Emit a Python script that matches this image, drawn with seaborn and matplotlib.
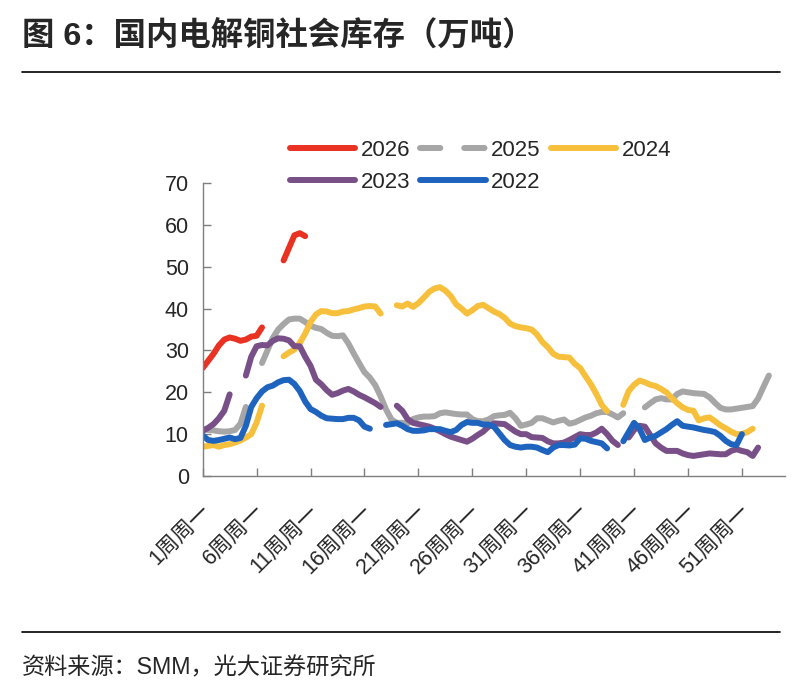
import numpy as np
import pandas as pd
import seaborn as sns
import matplotlib.pyplot as plt
from matplotlib.lines import Line2D

nan = np.nan

# 1周周一, 1周周四, 2周周一 ... (SMM twice-weekly)
categories = [f"{w}周周{d}" for w in range(1, 55) for d in ("一", "四")]

s2026 = [25.8, 27.5, 29.2, 31.2, 32.6, 33.1, 32.8, 32.3, 32.6, 33.3, 33.5, 35.5,
         nan, nan, nan, 51.5, 54.5, 57.5, 58.0, 57.3]

s2025 = [11.2, 11.0, 10.9, 10.7, 10.6, 10.7, 11.0, 12.5, 16.5, nan, nan,
         27.0, 30.0, 33.0, 35.0, 36.3, 37.4, 37.6, 37.6, 36.8, 35.9, 35.4, 35.1, 34.2, 33.5, 33.4, 33.6,
         31.7, 29.3, 27.0, 24.8, 23.5, 21.7, 19.0, 15.9, 13.5, 12.7, 12.7, 12.5,
         13.6, 14.0, 14.2, 14.2, 14.3, 15.0, 15.2, 15.0, 14.8, 14.7, 14.7, 13.6,
         13.1, 13.1, 13.5, 14.3, 14.5, 14.6, 15.1, 13.8, 12.0, 12.3, 12.7, 13.8, 13.8, 13.3,
         12.8, 13.2, 13.5, 12.5, 12.8, 13.4, 14.0, 14.4, 15.0, 15.3, 15.3, 14.7, 14.0, 15.0,
         nan, nan, nan,
         16.4, 17.4, 18.3, 18.6, 18.3, 18.3, 19.6, 20.2, 20.0, 19.8, 19.7, 19.6, 18.8, 17.5,
         16.3, 15.9, 15.9, 16.1, 16.3, 16.5, 16.7, 18.5, 21.3, 24.0]

s2024 = [7.0, 7.2, 7.4, 7.0, 7.4, 7.6, 8.0, 8.5, 9.2, 10.0, 12.8, 16.8,
         nan, nan, nan,
         28.6, 29.5, 30.2, 31.8, 34.0, 36.8, 38.6, 39.4, 39.3, 38.9, 38.9, 39.3, 39.4, 39.8,
         40.1, 40.5, 40.6, 40.5, 38.8,
         nan, nan,
         40.8, 40.5, 41.2, 40.4, 41.3, 42.6, 44.0, 44.8, 45.1, 44.3, 43.0, 41.0, 40.0, 38.8,
         39.6, 40.6, 40.9, 40.1, 39.3, 38.7, 37.8, 36.4, 35.8, 35.5, 35.3, 35.0, 33.8, 32.0,
         30.8, 29.2, 28.5, 28.4, 28.3, 26.8, 25.8, 23.8, 21.9, 19.6, 17.0, 15.5,
         nan, nan,
         17.0, 20.3, 21.8, 22.8, 22.4, 21.8, 21.5, 20.8, 20.0, 18.6, 17.4, 16.4, 15.8, 15.6,
         13.3, 13.8, 14.0, 13.1, 12.1, 11.4, 10.6, 10.0, 10.0, 10.5, 11.3]

s2023 = [10.8, 11.5, 12.4, 13.8, 15.6, 19.5,
         nan, nan,
         24.0, 28.5, 31.0, 31.3, 31.2, 32.3, 32.9, 32.8, 32.4, 31.0, 31.0, 28.5, 26.3, 23.0,
         21.9, 20.5, 19.4, 19.8, 20.4, 20.8, 20.2, 19.4, 18.8, 18.1, 17.4, 16.5,
         nan, nan,
         16.8, 15.6, 13.6, 12.7, 12.4, 12.1, 11.8, 11.3, 10.7, 10.0, 9.4, 9.0, 8.6, 8.2,
         8.9, 9.8, 10.6, 11.8, 12.6, 12.5, 12.4, 11.5, 10.6, 10.0, 10.0, 9.3, 9.2, 9.1,
         8.3, 7.8, 7.8, 8.0, 8.6, 9.3, 10.0, 9.8, 9.8, 10.4, 11.3, 10.0, 8.4, 7.4,
         nan,
         9.2, 11.0, 12.0, 11.8, 9.8, 7.8, 6.8, 6.0, 6.0, 6.0, 5.4, 5.0, 4.8, 5.0, 5.2,
         5.4, 5.3, 5.2, 5.2, 6.0, 6.4, 6.0, 5.7, 4.8, 6.8]

s2022 = [9.7, 8.6, 8.4, 8.6, 8.9, 9.2, 8.8, 9.1, 12.0, 16.5, 18.6, 20.2, 21.2, 21.6, 22.4,
         22.9, 23.0, 22.0, 20.3, 17.8, 16.0, 15.3, 14.4, 13.8, 13.7, 13.6, 13.6, 13.9, 13.9,
         13.3, 11.8, 11.3,
         nan, nan,
         12.2, 12.4, 12.6, 12.0, 11.2, 10.8, 10.8, 10.9, 11.2, 11.2, 11.2, 10.8, 10.5, 11.0,
         12.2, 12.9, 12.7, 12.7, 12.3, 12.3, 11.8, 10.2, 8.6, 7.4, 7.0, 6.8, 7.0, 7.0, 6.8,
         6.2, 5.7, 6.8, 7.4, 7.4, 7.3, 7.5, 9.0, 8.9, 8.4, 8.1, 7.8, 6.6,
         nan, nan,
         8.3, 10.5, 12.7, 11.3, 8.6, 9.2, 9.6, 10.4, 11.2, 12.2, 13.1, 12.0, 11.8, 11.6,
         11.3, 11.0, 10.8, 10.5, 9.6, 8.4, 7.6, 7.4, 10.0]

years = ["2026", "2025", "2024", "2023", "2022"]
colors = ["#EA3223", "#A6A6A6", "#F7C03C", "#785087", "#1E64BE"]
series = [s2026, s2025, s2024, s2023, s2022]

# long table; gaps split each year into separate segments
frames = []
for year, vals in zip(years, series):
    v = pd.Series(vals + [nan] * (len(categories) - len(vals)), dtype=float)
    df = pd.DataFrame({"x": np.arange(len(categories)), "value": v,
                       "year": year, "seg": v.isna().cumsum()})
    frames.append(df.dropna())
data = pd.concat(frames, ignore_index=True)

sns.set_theme(style="ticks")
plt.rcParams["font.family"] = ["Liberation Sans", "Noto Sans CJK SC"]
plt.rcParams["axes.unicode_minus"] = False

fig = plt.figure(figsize=(8, 6.91), dpi=100)
ax = fig.add_axes([0.2534, 0.3111, 0.7279, 0.4241])

sns.lineplot(data=data, x="x", y="value", hue="year", units="seg", estimator=None,
             hue_order=years, palette=colors, linewidth=4.3, legend=False, ax=ax,
             solid_capstyle="round", solid_joinstyle="round")

ax.set_xlim(0, 108)
ax.set_ylim(0, 70)
ax.set_yticks(range(0, 71, 10))
ax.set_xticks(range(0, 101, 10))
ax.set_xticklabels([])
ax.set_xticks(np.arange(0, 101, 10) + 0.8, minor=True)
ax.set_xticklabels(categories[::10], minor=True, rotation=45, ha="right",
                   va="center", rotation_mode="anchor")
ax.tick_params(axis="x", which="minor", length=0, pad=23, labelsize=15.5)
ax.tick_params(axis="x", which="major", direction="in", length=6, width=1, color="#7f7f7f")
ax.tick_params(axis="y", direction="in", length=6, width=1, color="#7f7f7f", pad=10, labelsize=15.5)
sns.despine(ax=ax)
for side in ["left", "bottom"]:
    ax.spines[side].set_color("#7f7f7f")
    ax.spines[side].set_linewidth(1)
ax.set_xlabel(None)
ax.set_ylabel(None)

handles = {y: Line2D([], [], color=c, lw=4.3, solid_capstyle="round")
           for y, c in zip(years, colors)}
handles["2025"] = Line2D([], [], color=colors[1], lw=4.3, linestyle=(0, (3.4, 4.0)),
                         dash_capstyle="round")
order = ["2026", "2023", "2025", "2022", "2024"]
fig.legend([handles[k] for k in order], order, loc="upper left",
           bbox_to_anchor=(0.362, 0.798), ncol=3, frameon=False, fontsize=16,
           handlelength=2.95, handletextpad=0.25, columnspacing=0.45,
           labelspacing=0.5, borderpad=0, borderaxespad=0)

fig.text(22 / 800, 1 - 37 / 691, "图 6：国内电解铜社会库存（万吨）",
         fontsize=23.3, fontweight="bold", va="center")
fig.text(22 / 800, 1 - 668 / 691, "资料来源：SMM，光大证券研究所", fontsize=16.7, va="center")
fig.add_artist(Line2D([22 / 800, 780 / 800], [1 - 72 / 691] * 2, color="black", lw=1.2))
fig.add_artist(Line2D([22 / 800, 780 / 800], [1 - 632 / 691] * 2, color="black", lw=1.2))

plt.savefig("out.png", dpi=100)
